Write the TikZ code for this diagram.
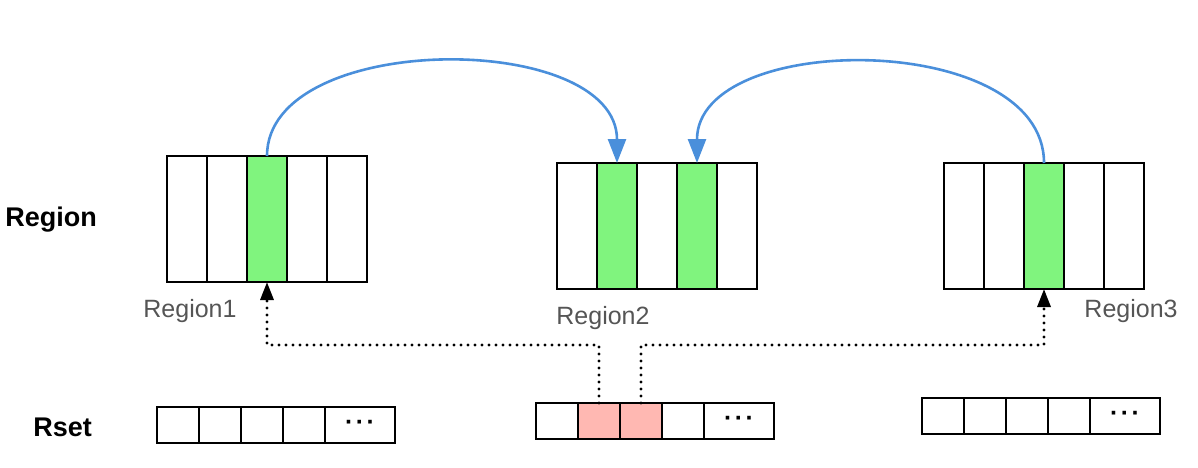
\documentclass[tikz,border=0pt]{standalone}
\usepackage{fontspec}
\setmainfont{Liberation Sans}
\usetikzlibrary{arrows.meta, calc}
\definecolor{cellgreen}{HTML}{80F47E}
\definecolor{cellpink}{HTML}{FFB8B2}
\definecolor{arcblue}{HTML}{4A8FDB}
\definecolor{labelgray}{HTML}{555555}

\begin{document}
\begin{tikzpicture}[
    x=0.5pt, y=-0.5pt,
    font={\fontsize{12.5}{14}\selectfont},
    regcell/.style={draw, line width=1.4pt, minimum width=20pt, minimum height=63pt, inner sep=0pt, outer sep=0pt, anchor=north west},
    setcell/.style={draw, line width=1.4pt, minimum width=21pt, minimum height=18pt, inner sep=0pt, outer sep=0pt, anchor=north west},
    setend/.style={setcell, minimum width=35pt},
    refarc/.style={arcblue, line width=1.3pt, -{Triangle[length=12pt, width=9pt]}},
    rsetlink/.style={line width=1.6pt, line cap=round, dash pattern=on 0pt off 3.5pt, -{Triangle[length=9pt, width=6.5pt]}},
    sidelabel/.style={font={\fontsize{13.5}{16}\selectfont\bfseries}, anchor=west, inner sep=0pt},
    reglabel/.style={text=labelgray}
]
\useasboundingbox (0,0) rectangle (1198,467);

% Beschriftung links
\node[sidelabel] (regiontxt) at (5,220) {Region};
\node[sidelabel] (rsettxt) at (33,427) {Rset};

% --- Regionen (je 5 Karten) ---
\foreach \c [count=\i] in {white, white, cellgreen, white, white} {
    \node[regcell, fill=\c] (r1-\i) at (167+40*\i-40,156) {};
}
\foreach \c [count=\i] in {white, cellgreen, white, cellgreen, white} {
    \node[regcell, fill=\c] (r2-\i) at (557+40*\i-40,163) {};
}
\foreach \c [count=\i] in {white, white, cellgreen, white, white} {
    \node[regcell, fill=\c] (r3-\i) at (944+40*\i-40,163) {};
}

\node[reglabel] (r1txt) at (190,311) {Region1};
\node[reglabel] (r2txt) at (603,318) {Region2};
\node[reglabel] (r3txt) at (1131,311) {Region3};

% --- Rsets ---
\foreach \c [count=\i] in {white, white, white, white} {
    \node[setcell, fill=\c] (s1-\i) at (157+42*\i-42,407) {};
}
\node[setend] (s1-5) at (s1-4.north east) {\textbf{·\hspace{1.2pt}·\hspace{1.2pt}·}};

\foreach \c [count=\i] in {white, cellpink, cellpink, white} {
    \node[setcell, fill=\c] (s2-\i) at (536+42*\i-42,403) {};
}
\node[setend] (s2-5) at (s2-4.north east) {\textbf{·\hspace{1.2pt}·\hspace{1.2pt}·}};

\foreach \c [count=\i] in {white, white, white, white} {
    \node[setcell, fill=\c] (s3-\i) at (922+42*\i-42,398) {};
}
\node[setend] (s3-5) at (s3-4.north east) {\textbf{·\hspace{1.2pt}·\hspace{1.2pt}·}};

% Referenzen zwischen den Regionen
\draw[refarc] (r1-3.north) .. controls +(0,-126) and +(0,-133) .. (r2-2.north);
\draw[refarc] (r3-3.north) .. controls +(0,-133) and +(0,-133) .. (r2-4.north);

% Rset -> Region (gepunktet)
\draw[rsetlink] (s2-2.north) -- ++(0,-58) -| (r1-3.south);
\draw[rsetlink] (s2-3.north) -- ++(0,-58) -| (r3-3.south);

\end{tikzpicture}
\end{document}
